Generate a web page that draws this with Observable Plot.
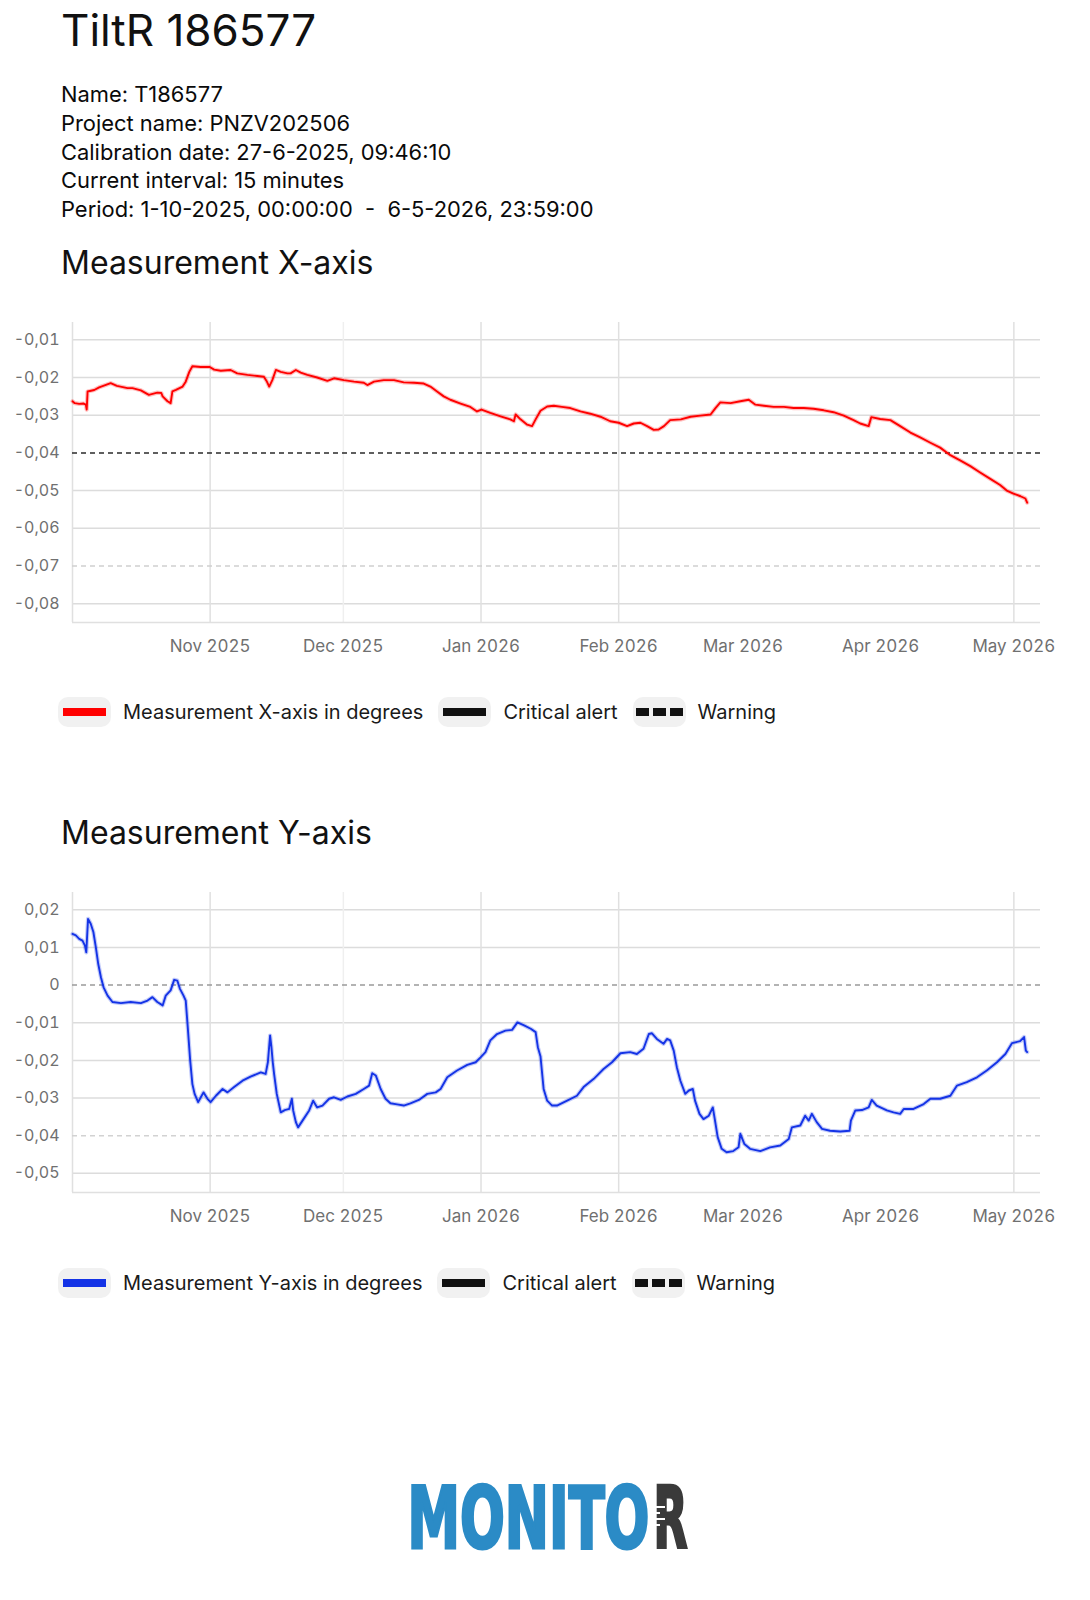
<!DOCTYPE html>
<html>
<head>
<meta charset="utf-8">
<script src="https://cdn.jsdelivr.net/npm/d3@7"></script>
<script src="https://cdn.jsdelivr.net/npm/@observablehq/plot@0.6"></script>
<style>
  body { margin: 0; background: #fff; font-family: Inter, "Liberation Sans", sans-serif; color: #111; }
  #page { position: relative; width: 1090px; height: 1600px; overflow: hidden; }
  .abs { position: absolute; left: 61px; margin: 0; line-height: 1; white-space: pre; }
  #title { top: 8px; font-size: 44px; font-weight: 400; }
  #info { top: 80px; font-size: 21.9px; line-height: 28.75px; color: #0a0a0a; }
  .section { font-size: 32px; font-weight: 400; }
  .chart { position: absolute; left: 0; }
  .legend { position: absolute; left: 58px; height: 30px; display: flex; align-items: center; font-size: 20px; color: #1a1a1a; }
  .pill { width: 53px; height: 30px; border-radius: 10px; background: #f1f1f1; display: flex; align-items: center; justify-content: center; flex: none; }
  .pill .bar { width: 43px; height: 8px; }
  .pill .dash { display: flex; gap: 4px; }
  .pill .dash i { display: block; width: 13px; height: 8px; background: #111; }
  .legend .lbl { margin: 0 15px 0 12px; white-space: nowrap; }
  #logo { position: absolute; left: 380px; top: 1470px; overflow: visible; }
</style>
</head>
<body>
<div id="page">
  <div class="abs" id="title">TiltR 186577</div>
  <div class="abs" id="info">Name: T186577
Project name: PNZV202506
Calibration date: 27-6-2025, 09:46:10
Current interval: 15 minutes
Period: 1-10-2025, 00:00:00  -  6-5-2026, 23:59:00</div>

  <div class="abs section" style="top:247px">Measurement X-axis</div>
  <div class="chart" id="chartX" style="top:300px"></div>
  <div class="legend" id="legendX" style="top:697px"></div>

  <div class="abs section" style="top:817px">Measurement Y-axis</div>
  <div class="chart" id="chartY" style="top:870px"></div>
  <div class="legend" id="legendY" style="top:1268px"></div>

  <svg id="logo" width="340" height="95" viewBox="0 0 340 95">
    <text id="logoMain" font-family="'DejaVu Sans Condensed','DejaVu Sans',sans-serif" font-weight="bold" font-size="85"
          fill="#2b8bc6" stroke="#2b8bc6" stroke-width="3">MONITO</text>
    <text id="logoEnd" font-family="'DejaVu Sans Condensed','DejaVu Sans',sans-serif" font-weight="bold" font-size="85"
          fill="#3a3a3a" stroke="#3a3a3a" stroke-width="3">R</text>
    <g stroke="#fff" stroke-width="2">
      <line x1="272" y1="37" x2="285" y2="37"/>
      <line x1="272" y1="43" x2="280" y2="43"/>
      <line x1="272" y1="49" x2="285" y2="49"/>
      <line x1="272" y1="55" x2="280" y2="55"/>
    </g>
  </svg>
</div>

<script>
// Period start (1 Oct 2025, UTC); samples are given as days since this moment.
const periodStart = Date.UTC(2025, 9, 1);
const periodEnd = Date.UTC(2026, 4, 7);

// X-axis tilt (degrees)
const xAxisDays = [
  0, 0.5, 1.5, 2.5, 3.0, 3.2, 3.4, 4.9, 6, 8.6,
  10, 12.4, 13.5, 15.4, 17.2, 19.1, 20, 20.3, 21.4, 22.1,
  22.5, 23.3, 24.8, 25.5, 26.3, 27, 28.9, 30.9, 31.9, 33.4,
  35.6, 37.1, 39.4, 41.6, 43.1, 43.7, 44.3, 45, 45.8, 46.9,
  48.4, 49.1, 50.3, 51.4, 52.9, 55.1, 57.4, 58.9, 61.1, 63.4,
  65.6, 66.4, 67.9, 70.1, 72.4, 74.6, 76.9, 79.1, 80.6, 82.1,
  83.6, 85.1, 87.4, 89.6, 91.1, 92.1, 94.1, 96.4, 98.6, 99.4,
  99.8, 100.9, 102.4, 103.5, 104.3, 105.4, 106.9, 108.4, 110.2, 112.1,
  114.4, 116.6, 118.9, 121.1, 123, 124.9, 126.4, 127.9, 129.4, 130.9,
  132, 133.2, 134.6, 137, 139.2, 141.4, 143.7, 144.8, 145.9, 148.2,
  150.4, 152.3, 153.8, 155.7, 157.9, 160.2, 162.4, 164.7, 166.9, 169.2,
  171.4, 173.7, 175.9, 177.4, 179.3, 179.9, 181.9, 184.2, 186.4, 188.7,
  190.9, 193.2, 195.4, 197.7, 199.9, 202.2, 204.4, 206.7, 208.9, 210.4,
  211.9, 213.5, 214.6, 215
];
const xAxisValues = [
  -0.0263, -0.0268, -0.0270, -0.0269, -0.0272, -0.0285, -0.0237, -0.0233, -0.0226, -0.0215,
  -0.0222, -0.0228, -0.0228, -0.0234, -0.0246, -0.0240, -0.0241, -0.0250, -0.0263, -0.0268,
  -0.0237, -0.0233, -0.0224, -0.0211, -0.0185, -0.0170, -0.0172, -0.0172, -0.0179, -0.0182,
  -0.0180, -0.0189, -0.0193, -0.0196, -0.0198, -0.0209, -0.0224, -0.0207, -0.0180, -0.0185,
  -0.0189, -0.0189, -0.0180, -0.0187, -0.0193, -0.0200, -0.0209, -0.0202, -0.0207, -0.0211,
  -0.0214, -0.0220, -0.0211, -0.0207, -0.0207, -0.0213, -0.0214, -0.0216, -0.0224, -0.0237,
  -0.0250, -0.0259, -0.0269, -0.0278, -0.0290, -0.0285, -0.0294, -0.0303, -0.0311, -0.0316,
  -0.0298, -0.0311, -0.0325, -0.0329, -0.0311, -0.0288, -0.0277, -0.0275, -0.0278, -0.0281,
  -0.0290, -0.0296, -0.0304, -0.0316, -0.0320, -0.0329, -0.0322, -0.0320, -0.0329, -0.0339,
  -0.0338, -0.0329, -0.0313, -0.0311, -0.0304, -0.0301, -0.0298, -0.0281, -0.0266, -0.0268,
  -0.0263, -0.0259, -0.0272, -0.0275, -0.0278, -0.0278, -0.0281, -0.0281, -0.0283, -0.0287,
  -0.0292, -0.0301, -0.0313, -0.0322, -0.0329, -0.0305, -0.0310, -0.0313, -0.0329, -0.0346,
  -0.0359, -0.0373, -0.0386, -0.0406, -0.0420, -0.0435, -0.0452, -0.0469, -0.0485, -0.0500,
  -0.0508, -0.0515, -0.0521, -0.0532
];

// Y-axis tilt (degrees)
const yAxisDays = [
  0, 0.75, 1.5, 2.25, 2.8, 3.1, 3.5, 4.1, 4.7, 5.25,
  5.8, 6.4, 7, 7.9, 9, 10.9, 13.1, 15.4, 16.9, 18,
  19.1, 20.3, 21, 22.1, 22.9, 23.6, 24.2, 25, 25.5, 25.9,
  26.5, 27, 27.5, 28.3, 28.9, 29.5, 30.4, 31.1, 32.3, 33.8,
  34.9, 36.4, 38.3, 40.1, 42.4, 43.5, 44, 44.5, 44.8, 45.1,
  45.4, 46, 46.9, 47.8, 48.8, 49.4, 49.7, 50.3, 50.8, 51.8,
  53.3, 54.2, 55.1, 56.3, 57.8, 58.9, 60.4, 61.9, 63.8, 65.6,
  66.8, 67.5, 68.3, 69.4, 70.5, 71.6, 73.1, 74.6, 76.1, 78,
  79.9, 81.8, 82.9, 84.4, 86.6, 88.9, 90.8, 91.9, 93, 94.1,
  95.6, 97.5, 99, 100.2, 101.7, 103.2, 104.3, 104.8, 105.4, 106.1,
  106.9, 108, 109.1, 111.4, 113.6, 115.1, 117.4, 119.6, 121.5, 123.4,
  125.6, 127.1, 128.6, 129.8, 130.5, 131.6, 133.1, 133.9, 134.6, 135.4,
  136.1, 136.9, 138, 138.8, 139.7, 140.2, 141.2, 142.1, 143.3, 144.2,
  144.7, 145.3, 146.2, 147.3, 148.8, 150, 150.4, 151.3, 152.6, 154.9,
  157.1, 159.4, 161.3, 162, 163.9, 165, 165.8, 166.5, 167.6, 168.8,
  170.6, 172.9, 175, 175.3, 176.3, 177.8, 179.3, 180, 181.1, 183.4,
  184.9, 186.4, 187.2, 189.4, 191.7, 193.2, 195.4, 197.7, 199.2, 201.4,
  203.7, 205.9, 208.2, 210.1, 211.6, 213.4, 214.3, 214.7, 215
];
const yAxisValues = [
  0.0136, 0.0132, 0.0123, 0.0118, 0.0105, 0.0087, 0.0176, 0.0163, 0.0141, 0.0101,
  0.0056, 0.0021, -0.0006, -0.0028, -0.0045, -0.0048, -0.0045, -0.0048, -0.0041, -0.0032,
  -0.0045, -0.0054, -0.0028, -0.0014, 0.0014, 0.0012, -0.0010, -0.0028, -0.0041, -0.0103,
  -0.0200, -0.0263, -0.0289, -0.0311, -0.0298, -0.0285, -0.0302, -0.0311, -0.0294, -0.0276,
  -0.0285, -0.0271, -0.0254, -0.0243, -0.0232, -0.0236, -0.0205, -0.0134, -0.0165, -0.0205,
  -0.0236, -0.0289, -0.0338, -0.0332, -0.0329, -0.0302, -0.0333, -0.0364, -0.0378, -0.0360,
  -0.0333, -0.0307, -0.0325, -0.0320, -0.0302, -0.0298, -0.0305, -0.0296, -0.0289, -0.0276,
  -0.0267, -0.0234, -0.0240, -0.0276, -0.0302, -0.0314, -0.0317, -0.0320, -0.0314, -0.0305,
  -0.0289, -0.0285, -0.0276, -0.0245, -0.0227, -0.0212, -0.0205, -0.0192, -0.0178, -0.0147,
  -0.0130, -0.0121, -0.0119, -0.0099, -0.0107, -0.0116, -0.0125, -0.0165, -0.0190, -0.0276,
  -0.0307, -0.0320, -0.0320, -0.0307, -0.0294, -0.0271, -0.0249, -0.0223, -0.0205, -0.0181,
  -0.0178, -0.0183, -0.0169, -0.0130, -0.0128, -0.0143, -0.0156, -0.0143, -0.0147, -0.0174,
  -0.0218, -0.0254, -0.0289, -0.0280, -0.0276, -0.0307, -0.0342, -0.0356, -0.0347, -0.0325,
  -0.0360, -0.0404, -0.0435, -0.0444, -0.0441, -0.0431, -0.0395, -0.0422, -0.0435, -0.0441,
  -0.0431, -0.0426, -0.0409, -0.0378, -0.0373, -0.0347, -0.0360, -0.0342, -0.0364, -0.0382,
  -0.0387, -0.0389, -0.0387, -0.0360, -0.0333, -0.0332, -0.0325, -0.0305, -0.0320, -0.0333,
  -0.0338, -0.0342, -0.0329, -0.0329, -0.0316, -0.0302, -0.0302, -0.0294, -0.0267, -0.0258,
  -0.0245, -0.0227, -0.0205, -0.0183, -0.0154, -0.0149, -0.0138, -0.0174, -0.0178
];

// Axis ticks and alert levels
const monthTicks = ["2025-11-01", "2025-12-01", "2026-01-01", "2026-02-01", "2026-03-01", "2026-04-01", "2026-05-01"];
const monthGrid = ["2025-11-01", "2026-01-01", "2026-02-01", "2026-05-01"];
const monthGridFaint = ["2025-12-01"];
const xAxisTicks = [-0.01, -0.02, -0.03, -0.04, -0.05, -0.06, -0.07, -0.08];
const yAxisTicks = [0.02, 0.01, 0, -0.01, -0.02, -0.03, -0.04, -0.05];
const xAxisLevels = [-0.04, -0.07];
const yAxisLevels = [0, -0.04];

const legendNames = {
  x: "Measurement X-axis in degrees",
  y: "Measurement Y-axis in degrees",
  critical: "Critical alert",
  warning: "Warning"
};

const parseDay = d3.utcParse("%Y-%m-%d");
const nl = d3.formatLocale({decimal: ",", thousands: ".", grouping: [3], currency: ["€", ""], minus: "-"});
const fmt2 = nl.format(".2f");
const tickFmt = v => (v === 0 ? "0" : fmt2(v));
const FONT = "Inter, 'Liberation Sans', sans-serif";

function series(days, values) {
  return days.map((d, i) => ({date: new Date(periodStart + d * 864e5), value: values[i]}));
}

function drawChart({days, values, color, yDomain, ticks, levels, levelColors}) {
  const data = series(days, values);
  const grid = ticks.filter(t => !levels.includes(t));
  const xDomain = [new Date(periodStart), new Date(periodEnd)];
  return Plot.plot({
    width: 1090,
    height: 362,
    marginTop: 22,
    marginBottom: 40,
    marginLeft: 72,
    marginRight: 50,
    style: {fontFamily: FONT, background: "transparent", color: "#707070", overflow: "visible"},
    x: {type: "utc", domain: xDomain, label: null},
    y: {domain: yDomain, label: null},
    marks: [
      Plot.ruleY(grid, {stroke: "#dcdcdc", strokeWidth: 1.5}),
      Plot.ruleX(monthGrid.map(parseDay), {stroke: "#e0e0e0", strokeWidth: 1.5}),
      Plot.ruleX(monthGridFaint.map(parseDay), {stroke: "#efefef", strokeWidth: 1.5}),
      Plot.ruleX([xDomain[0]], {stroke: "#e0e0e0", strokeWidth: 1.5}),
      Plot.ruleY([yDomain[0]], {stroke: "#e0e0e0", strokeWidth: 1.5}),
      ...levels.map((v, i) => Plot.ruleY([v], {stroke: levelColors[i], strokeWidth: 1.5, strokeDasharray: "5,4"})),
      Plot.line(data, {x: "date", y: "value", stroke: color, strokeWidth: 4.2, strokeOpacity: 0.25}),
      Plot.line(data, {x: "date", y: "value", stroke: color, strokeWidth: 1.9}),
      Plot.axisX(monthTicks.map(parseDay), {tickSize: 0, tickPadding: 17, fontSize: 17, tickFormat: d3.utcFormat("%b %Y")}),
      Plot.axisY(ticks, {tickSize: 0, tickPadding: 13, fontSize: 16, tickFormat: tickFmt})
    ]
  });
}

function drawLegend(el, name, color) {
  const items = [
    {label: name, swatch: `<span class="bar" style="background:${color}"></span>`},
    {label: legendNames.critical, swatch: `<span class="bar" style="background:#111"></span>`},
    {label: legendNames.warning, swatch: `<span class="dash"><i></i><i></i><i></i></span>`}
  ];
  el.innerHTML = items.map(d => `<span class="pill">${d.swatch}</span><span class="lbl">${d.label}</span>`).join("");
}

// Fit a logo word into a given box by horizontal scaling.
function fitText(id, x, baseline, width) {
  const t = document.getElementById(id);
  const w = t.getComputedTextLength();
  t.setAttribute("transform", `translate(${x},${baseline}) scale(${width / w},1)`);
}

document.getElementById("chartX").append(drawChart({
  days: xAxisDays, values: xAxisValues, color: "#ff0000",
  yDomain: [-0.0850, -0.0054], ticks: xAxisTicks,
  levels: xAxisLevels, levelColors: ["#2a2a2a", "#cfcfcf"]
}));
document.getElementById("chartY").append(drawChart({
  days: yAxisDays, values: yAxisValues, color: "#1433e6",
  yDomain: [-0.0551, 0.0246], ticks: yAxisTicks,
  levels: yAxisLevels, levelColors: ["#9a9a9a", "#d2d2d2"]
}));
drawLegend(document.getElementById("legendX"), legendNames.x, "#ff0000");
drawLegend(document.getElementById("legendY"), legendNames.y, "#1433e6");
fitText("logoMain", 27.5, 78, 242);
fitText("logoEnd", 273.5, 78, 34);
</script>
</body>
</html>
